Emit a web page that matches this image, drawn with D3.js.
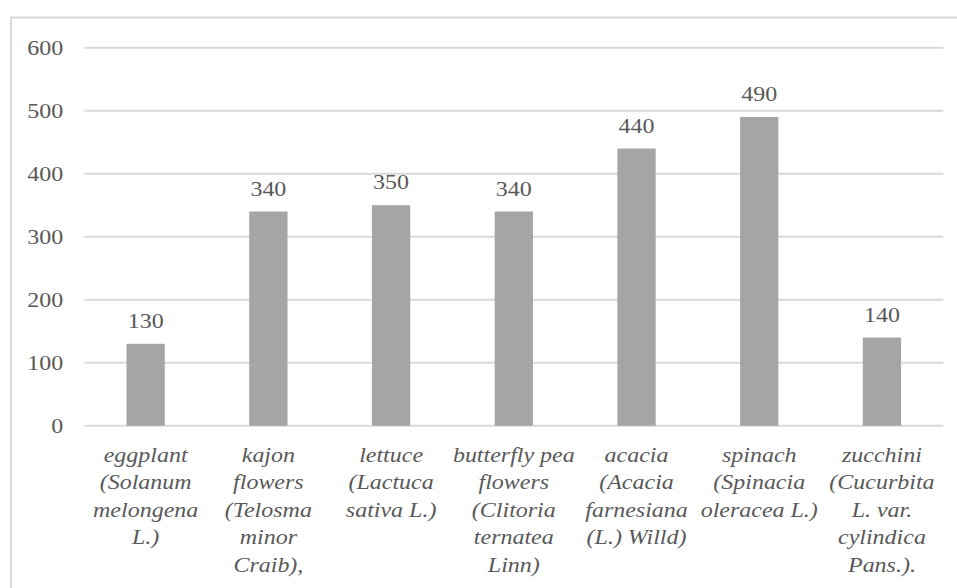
<!DOCTYPE html>
<html><head><meta charset="utf-8">
<script src="https://cdn.jsdelivr.net/npm/d3@7"></script>
<style>
html,body{margin:0;padding:0;background:#fff;}
</style></head>
<body><svg id="c" width="957" height="588"></svg>
<script>
const categories = [
  ["eggplant","(Solanum","melongena","L.)"],
  ["kajon","flowers","(Telosma","minor","Craib),"],
  ["lettuce","(Lactuca","sativa L.)"],
  ["butterfly pea","flowers","(Clitoria","ternatea","Linn)"],
  ["acacia","(Acacia","farnesiana","(L.) Willd)"],
  ["spinach","(Spinacia","oleracea L.)"],
  ["zucchini","(Cucurbita","L. var.","cylindica","Pans.)."]
];
const values = [130, 340, 350, 340, 440, 490, 140];
const yTicks = [0, 100, 200, 300, 400, 500, 600];

const FONT = "Liberation Serif";
const TXT = "#595959";
const FS = 20.5, SX = 1.17;
const svg = d3.select("#c");
const mLeft = 84.3, mRight = 943.3, mTop = 47.7, mBottom = 425.7;

svg.append("rect").attr("x", 11).attr("y", 17.5).attr("width", 960).attr("height", 600)
  .attr("fill", "none").attr("stroke", "#d9d9d9").attr("stroke-width", 2);

const x = d3.scaleBand().domain(d3.range(categories.length)).range([mLeft, mRight]).paddingInner(0.688).paddingOuter(0.344);
const y = d3.scaleLinear().domain([0, 600]).range([mBottom, mTop]);

svg.append("g").selectAll("line").data(yTicks).join("line")
  .attr("x1", mLeft).attr("x2", mRight)
  .attr("y1", d => y(d)).attr("y2", d => y(d))
  .attr("stroke", "#d9d9d9").attr("stroke-width", 2);

// y tick labels (scaled horizontally)
svg.append("g").selectAll("text").data(yTicks).join("text")
  .attr("transform", d => `translate(63.3,${y(d) + 7}) scale(${SX},1)`)
  .attr("text-anchor", "end").attr("font-size", FS)
  .attr("font-family", FONT).attr("fill", TXT)
  .text(d => d);

svg.append("g").selectAll("rect").data(values).join("rect")
  .attr("x", (d, i) => x(i)).attr("width", x.bandwidth())
  .attr("y", d => y(d)).attr("height", d => y(0) - y(d))
  .attr("fill", "#a5a5a5");

svg.append("g").selectAll("text").data(values).join("text")
  .attr("transform", (d, i) => `translate(${x(i) + x.bandwidth() / 2},${y(d) - 16}) scale(${SX},1)`)
  .attr("text-anchor", "middle").attr("font-size", FS)
  .attr("font-family", FONT).attr("fill", TXT)
  .text(d => d);

const cl = svg.append("g").selectAll("text").data(categories).join("text")
  .attr("transform", (d, i) => `translate(${x(i) + x.bandwidth() / 2},0) scale(${SX},1)`)
  .attr("text-anchor", "middle").attr("font-size", FS).attr("font-style", "italic")
  .attr("font-family", FONT).attr("fill", TXT);
cl.each(function(lines) {
  d3.select(this).selectAll("tspan").data(lines).join("tspan")
    .attr("x", 0)
    .attr("y", (d, j) => 461.7 + j * 27.5)
    .text(d => d);
});
</script></body></html>
